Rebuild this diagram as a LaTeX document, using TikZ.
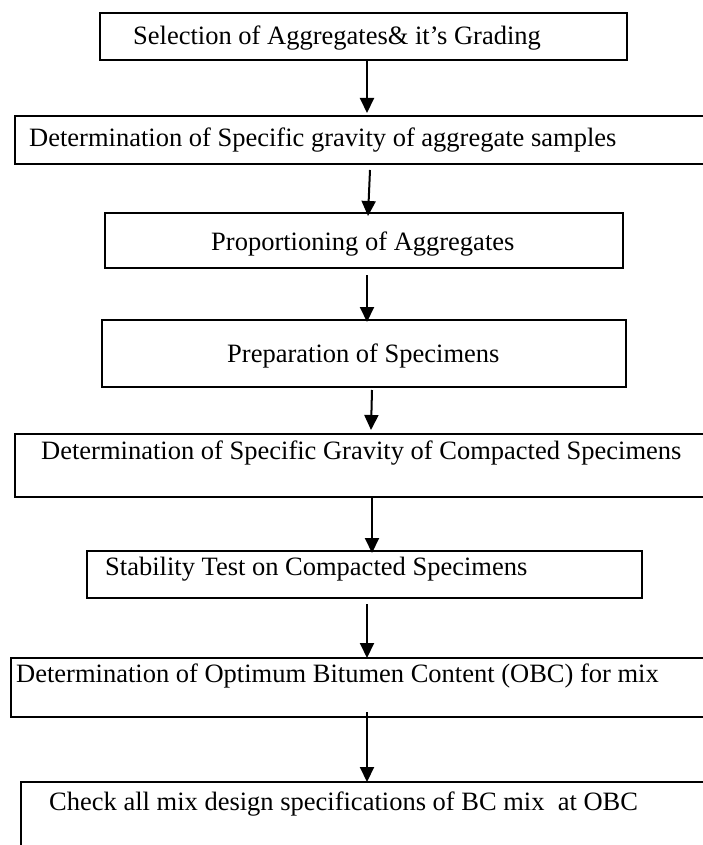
\documentclass[tikz,border=0pt]{standalone}
\usepackage{fontspec}
\setmainfont{Liberation Serif}
\usetikzlibrary{arrows.meta}

\tikzset{
    box/.style={draw, line width=2pt, rectangle, anchor=north west, inner sep=0pt},
    lbl/.style={anchor=base west, inner sep=0pt, font=\fontsize{26.5}{30}\selectfont},
    flow/.style={line width=2pt, -{Triangle[length=15pt,width=14pt]}}
}

\begin{document}
\begin{tikzpicture}[x=1pt,y=-1pt]
    \useasboundingbox (0,0) rectangle (703,845);
    \clip (0,0) rectangle (703,845);

    % boxes
    \node[box, minimum width=527pt, minimum height=47pt] (select) at (99,12) {};
    \node[box, minimum width=706pt, minimum height=48pt] (sgagg)  at (14,115) {};
    \node[box, minimum width=518pt, minimum height=55pt] (prop)   at (104,212) {};
    \node[box, minimum width=524pt, minimum height=67pt] (prep)   at (101,319) {};
    \node[box, minimum width=706pt, minimum height=63pt] (sgcomp) at (14,433) {};
    \node[box, minimum width=555pt, minimum height=47pt] (stab)   at (86,550) {};
    \node[box, minimum width=710pt, minimum height=59pt] (obc)    at (10,657) {};
    \node[box, minimum width=700pt, minimum height=90pt] (check)  at (20,781) {};

    % texts
    \node[lbl] (selecttxt) at (133,45)  {Selection of Aggregates\& it's Grading};
    \node[lbl] (sgaggtxt)  at (29,147)  {Determination of Specific gravity of aggregate samples};
    \node[lbl] (proptxt)   at (211,250) {Proportioning of Aggregates};
    \node[lbl] (preptxt)   at (227,362) {Preparation of Specimens};
    \node[lbl] (sgcomptxt) at (41,459)  {Determination of Specific Gravity of Compacted Specimens};
    \node[lbl] (stabtxt)   at (105,575) {Stability Test on Compacted Specimens};
    \node[lbl] (obctxt)    at (16,682)  {Determination of Optimum Bitumen Content (OBC) for mix};
    \node[lbl] (checktxt)  at (49,810)  {Check all mix design specifications of BC mix\ \ at OBC};

    % arrows
    \draw[flow] (select.south -| 367,0) -- ([yshift=2pt]sgagg.north -| 367,0);
    \draw[flow] ([yshift=-5pt]sgagg.south -| 370,0) -- ([yshift=-4pt]prop.north -| 368,0);
    \draw[flow] ([yshift=-6pt]prop.south -| 367,0) -- ([yshift=-3pt]prep.north -| 367,0);
    \draw[flow] ([yshift=-2pt]prep.south -| 372,0) -- ([yshift=3pt]sgcomp.north -| 371,0);
    \draw[flow] (sgcomp.south -| 372,0) -- ([yshift=-3pt]stab.north -| 372,0);
    \draw[flow] ([yshift=-5pt]stab.south -| 367,0) -- ([yshift=-1pt]obc.north -| 367,0);
    \draw[flow] ([yshift=6pt]obc.south -| 367,0) -- ([yshift=-1pt]check.north -| 367,0);
\end{tikzpicture}
\end{document}
